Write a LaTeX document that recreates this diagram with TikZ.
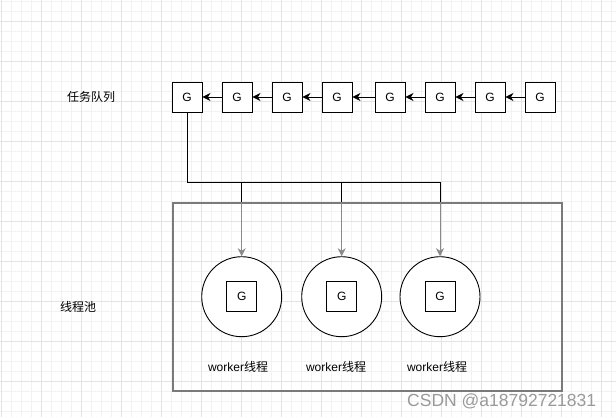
\documentclass[tikz,border=0pt]{standalone}
\usepackage{fontspec}
\setmainfont{Liberation Sans}
\newfontfamily\cjk{Noto Sans CJK SC}
\usetikzlibrary{arrows.meta}
\definecolor{gridminor}{HTML}{F2F2F2}
\definecolor{gridmajor}{HTML}{E3E3E3}
\definecolor{poolgray}{HTML}{7A7A7A}
\definecolor{arrowgray}{HTML}{8A8A8A}
\definecolor{wmgray}{HTML}{9A9A9A}
\tikzset{
  gbox/.style={draw=black, line width=0.9bp, fill=white, minimum width=30bp, minimum height=30bp, inner sep=0pt, font=\fontsize{12bp}{14bp}\selectfont},
  wcircle/.style={draw=black, line width=0.9bp, fill=white, circle, minimum size=80bp, inner sep=0pt},
  lbl/.style={font=\fontsize{12bp}{14bp}\selectfont, inner sep=0pt},
  chain/.style={draw=black, line width=0.9bp, -{Stealth[length=8bp,width=8bp,inset=2.5bp]}},
  feed/.style={draw=black, line width=0.9bp},
  drop/.style={draw=arrowgray, line width=0.9bp, -{Stealth[length=8bp,width=8bp,inset=2.5bp]}},
}
\begin{document}
\begin{tikzpicture}[x=1bp,y=-1bp]
\useasboundingbox (0,0) rectangle (616,417);
\fill[white] (0,0) rectangle (616,417);
% grid
\foreach \x in {1,11,...,611} \draw[gridminor, line width=0.6bp] (\x,0) -- (\x,417);
\foreach \y in {1,11,...,411} \draw[gridminor, line width=0.6bp] (0,\y) -- (616,\y);
\foreach \x in {1,41,...,601} \draw[gridmajor, line width=0.8bp] (\x,0) -- (\x,417);
\foreach \y in {21,61,...,401} \draw[gridmajor, line width=0.8bp] (0,\y) -- (616,\y);

% labels
\node[lbl] (tq) at (91,97) {\cjk 任务队列};
\node[lbl] (tp) at (78,307) {\cjk 线程池};

% queue
\node[gbox] (q1) at (187,97) {G};
\node[gbox] (q2) at (237,97) {G};
\node[gbox] (q3) at (287,97) {G};
\node[gbox] (q4) at (337,97) {G};
\node[gbox] (q5) at (390,97) {G};
\node[gbox] (q6) at (440,97) {G};
\node[gbox] (q7) at (490,97) {G};
\node[gbox] (q8) at (540,97) {G};
\foreach \a/\b in {q2/q1,q3/q2,q4/q3,q5/q4,q6/q5,q7/q6,q8/q7}
  \draw[chain] (\a.west) -- (\b.east);

% feed lines
\coordinate (j0) at (187,182);
\coordinate (j1) at (241.7,182);
\coordinate (j2) at (341.7,182);
\coordinate (j3) at (440,182);
\coordinate (t1) at (241.7,202);
\coordinate (t2) at (341.7,202);
\coordinate (t3) at (440,202);
\draw[feed] (q1.south) -- (j0) -- (j3);
\draw[feed] (j1) -- (t1);
\draw[feed] (j2) -- (t2);
\draw[feed] (j3) -- (t3);

% pool
\node[draw=poolgray, line width=1.8bp, minimum width=389bp, minimum height=188bp, inner sep=0pt, anchor=north west] (pool) at (172,202) {};

% workers
\node[wcircle] (c1) at (241.7,296.7) {};
\node[wcircle] (c2) at (341.7,296.7) {};
\node[wcircle] (c3) at (440,296.7) {};
\node[gbox] (g1) at (c1) {G};
\node[gbox] (g2) at (c2) {G};
\node[gbox] (g3) at (c3) {G};
\draw[drop] (t1) -- (c1.north);
\draw[drop] (t2) -- (c2.north);
\draw[drop] (t3) -- (c3.north);

\node[lbl] (w1) at (238,366.5) {worker{\cjk 线程}};
\node[lbl] (w2) at (336,366.5) {worker{\cjk 线程}};
\node[lbl] (w3) at (437,366.5) {worker{\cjk 线程}};

% watermark
\node[text=wmgray, font=\fontsize{17.5bp}{20bp}\selectfont, inner sep=0pt, anchor=west] (wm) at (407,401) {CSDN @a18792721831};
\end{tikzpicture}
\end{document}
